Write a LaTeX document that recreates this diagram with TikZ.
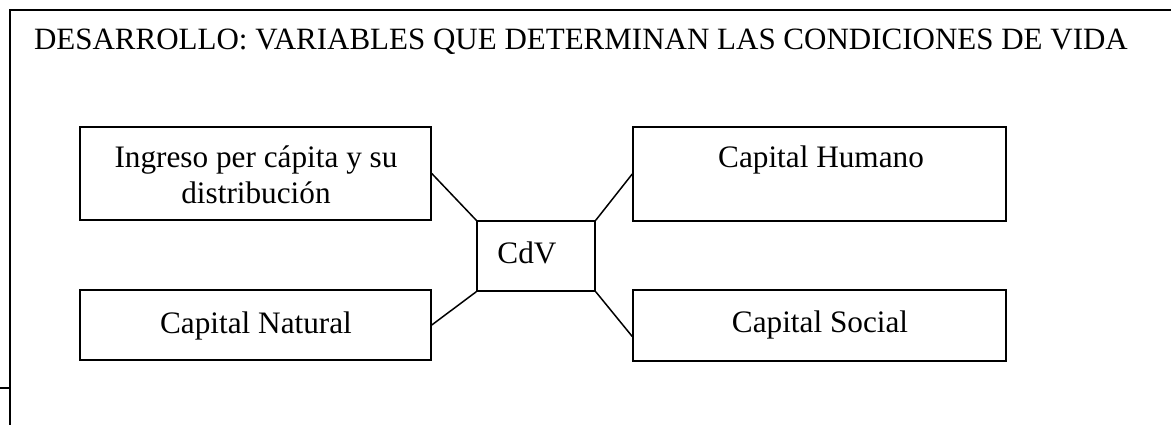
\documentclass[tikz,border=0pt]{standalone}
\usepackage{fontspec}
\setmainfont{Liberation Serif}
\usepackage{tikz}
\usetikzlibrary{positioning}
\tikzset{>=latex}

\begin{document}
\begin{tikzpicture}[x=0.4pt, y=-0.4pt, line width=0.6pt,
	box/.style={rectangle, draw=black, inner sep=0pt},
	txt/.style={inner sep=0pt, align=center, font=\fontsize{12.5}{14.4}\selectfont}]
		\useasboundingbox (0,0) rectangle (1171,425);
		% marco
		\draw (10,425) -- (10,10) -- (1171,10);
		\draw (0,388) -- (10,388);
		\node[txt, anchor=base, font=\fontsize{12.4}{14.4}\selectfont] (titulo) at (581,50) {DESARROLLO: VARIABLES QUE DETERMINAN LAS CONDICIONES DE VIDA};
		% cajas
		\node[box, minimum width=140.4pt, minimum height=37.2pt] (ing) at (255.5,173.5) {};
		\node[box, minimum width=140.4pt, minimum height=28pt] (nat) at (255.5,325) {};
		\node[box, minimum width=149.2pt, minimum height=37.6pt] (hum) at (819.5,174) {};
		\node[box, minimum width=149.2pt, minimum height=28.4pt] (soc) at (819.5,325.5) {};
		\node[box, minimum width=47.2pt, minimum height=28pt] (cdv) at (536,256) {};
		% textos
		\node[txt] (ingtxt) at (256,175) {Ingreso per cápita y su\\distribución};
		\node[txt, anchor=base] (nattxt) at (256,333) {Capital Natural};
		\node[txt, anchor=base] (humtxt) at (821,168) {Capital Humano};
		\node[txt, anchor=base] (soctxt) at (820,332) {Capital Social};
		\node[txt, anchor=base] (cdvtxt) at (527,263) {CdV};
		\path[draw]
			(ing.east) -- (cdv.north west)
			(hum.west) -- (cdv.north east)
			(nat.east) -- (cdv.south west)
			([yshift=-4.4pt]soc.west) -- (cdv.south east);
	\end{tikzpicture}
\end{document}
